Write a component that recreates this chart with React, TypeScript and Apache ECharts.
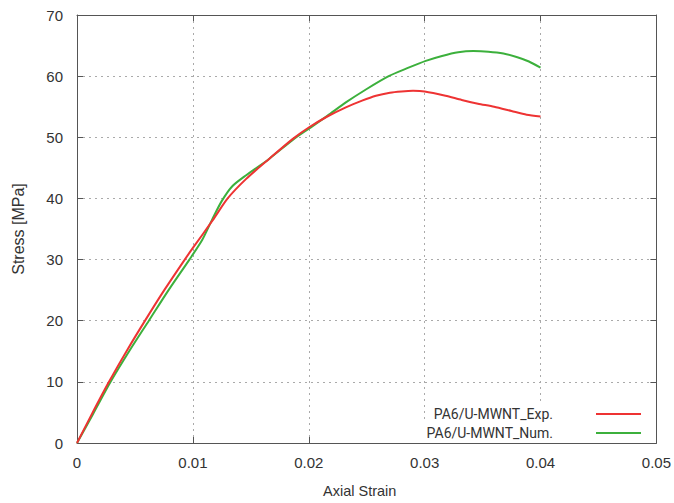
import React, { useEffect, useRef } from "react";
import * as echarts from "echarts";

const seriesNames = ["PA6/U-MWNT_Exp.", "PA6/U-MWNT_Num."];
const expStrain = [0, 0.0013, 0.0027, 0.0043, 0.0059, 0.0076, 0.0093, 0.01, 0.0117, 0.013, 0.0146, 0.0166, 0.0186, 0.02, 0.0216, 0.0232, 0.0246, 0.0258, 0.027, 0.028, 0.029, 0.03, 0.0318, 0.0332, 0.0346, 0.036, 0.0375, 0.0388, 0.04];
const expStress = [0, 4.8, 9.8, 15.1, 20.1, 25.2, 30, 31.9, 36.4, 40, 43.2, 46.5, 49.7, 51.6, 53.4, 54.9, 56.0, 56.8, 57.3, 57.5, 57.6, 57.5, 56.8, 56.1, 55.5, 55.0, 54.3, 53.7, 53.4];
const numStrain = [0, 0.0014, 0.0029, 0.0045, 0.0062, 0.0079, 0.0097, 0.0108, 0.0117, 0.0125, 0.0134, 0.0146, 0.0166, 0.0187, 0.02, 0.0216, 0.0232, 0.025, 0.0269, 0.0285, 0.0301, 0.0315, 0.0329, 0.0342, 0.0355, 0.0368, 0.038, 0.039, 0.04];
const numStress = [0, 4.8, 10, 15, 20, 25, 30, 33.2, 36.7, 39.6, 42.0, 43.8, 46.5, 49.7, 51.4, 53.5, 55.7, 57.9, 60, 61.3, 62.5, 63.3, 63.9, 64.1, 64.0, 63.7, 63.1, 62.4, 61.4];
const xTicks = [0, 0.01, 0.02, 0.03, 0.04, 0.05];

const colors = ["#ee3333", "#3cb03c"];
const FONT = "Liberation Sans";
const AXIS_COLOR = "#555";

export default function App() {
  const ref = useRef<HTMLDivElement>(null);
  useEffect(() => {
    if (!ref.current) return;
    const chart = echarts.init(ref.current, null, { renderer: "svg" });
    const zip = (xs: number[], ys: number[]) => xs.map((x, i) => [x, ys[i]]);
    const labelStyle = { color: "#333", fontFamily: FONT, fontSize: 15 };
    const xFmt = (v: number) => {
      const s = xTicks.find((t) => Math.abs(t - v) < 1e-9);
      return s === undefined ? "" : String(s);
    };
    const baseX = {
      type: "value",
      min: 0,
      max: 0.05,
      interval: 0.01,
      axisLine: { show: true, onZero: false, lineStyle: { color: AXIS_COLOR, width: 1 } },
      axisTick: { show: true, inside: true, length: 6, lineStyle: { color: AXIS_COLOR } },
    };
    const baseY = {
      type: "value",
      min: 0,
      max: 70,
      interval: 10,
      axisLine: { show: true, onZero: false, lineStyle: { color: AXIS_COLOR, width: 1 } },
      axisTick: { show: true, inside: true, length: 6, lineStyle: { color: AXIS_COLOR } },
    };
    const legendCommon = {
      orient: "vertical",
      right: 33,
      itemWidth: 45,
      itemHeight: 2,
      icon: "rect",
      backgroundColor: "#fff",
      textStyle: { color: "#333", fontFamily: "Roboto", fontSize: 14, padding: [0, 38, 0, 0] },
      align: "right",
    };
    chart.setOption({
      animation: false,
      backgroundColor: "#fff",
      grid: { left: 77, right: 15, top: 15, bottom: 57, containLabel: false },
      legend: [
        { ...legendCommon, data: [seriesNames[0]], top: 404, padding: [3, 0, 3, 4] },
        { ...legendCommon, data: [seriesNames[1]], top: 423, padding: [3, 0, 3, 4] },
      ],
      xAxis: [
        {
          ...baseX,
          position: "bottom",
          name: "Axial Strain",
          nameLocation: "middle",
          nameGap: 40,
          nameTextStyle: { color: "#333", fontFamily: FONT, fontSize: 14.5, padding: [0, 14, 0, 0] },
          axisLabel: { ...labelStyle, margin: 12, formatter: xFmt },
          splitLine: { show: true, lineStyle: { color: "#aaa", type: [2, 4], width: 1 } },
        },
        {
          ...baseX,
          position: "top",
          axisLabel: { show: false },
          splitLine: { show: false },
        },
      ],
      yAxis: [
        {
          ...baseY,
          position: "left",
          name: "Stress [MPa]",
          nameLocation: "middle",
          nameGap: 51,
          nameTextStyle: { color: "#333", fontFamily: FONT, fontSize: 16 },
          axisLabel: { ...labelStyle, margin: 14 },
          splitLine: { show: true, lineStyle: { color: "#aaa", type: [2, 4], width: 1 } },
        },
        {
          ...baseY,
          position: "right",
          axisLabel: { show: false },
          splitLine: { show: false },
        },
      ],
      series: [
        {
          name: seriesNames[0],
          type: "line",
          data: zip(expStrain, expStress),
          showSymbol: false,
          smooth: 0.25,
          lineStyle: { color: colors[0], width: 2 },
          itemStyle: { color: colors[0] },
          z: 3,
        },
        {
          name: seriesNames[1],
          type: "line",
          data: zip(numStrain, numStress),
          showSymbol: false,
          smooth: 0.25,
          lineStyle: { color: colors[1], width: 2 },
          itemStyle: { color: colors[1] },
          z: 2,
        },
      ],
    });
    return () => chart.dispose();
  }, []);
  return <div ref={ref} style={{ width: 674, height: 503, position: "absolute", left: 0, top: 0 }} />;
}
